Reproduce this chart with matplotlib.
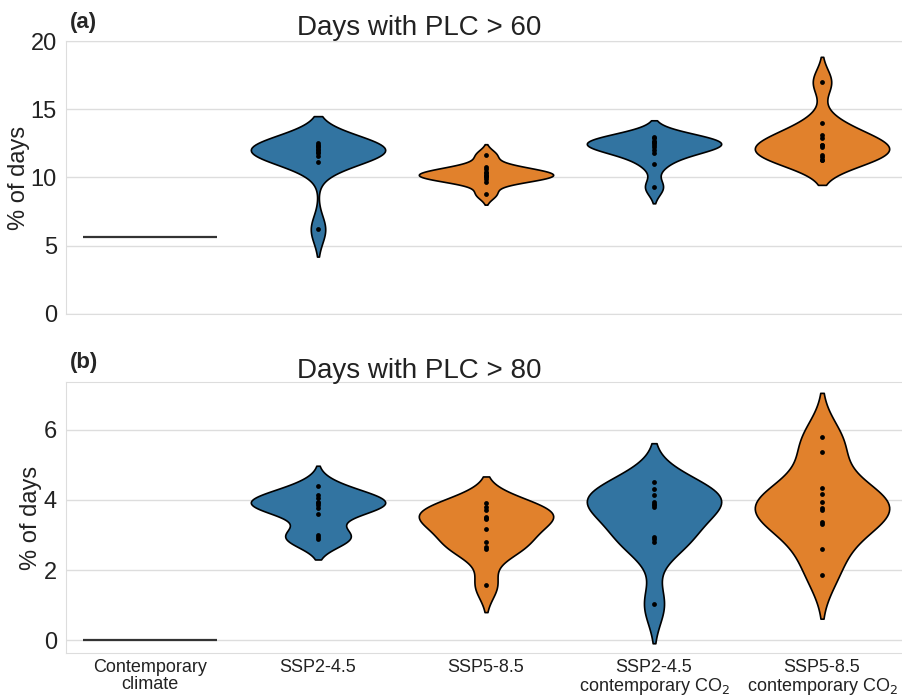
import numpy as np
import pandas as pd
import matplotlib
matplotlib.use("Agg")
import matplotlib.pyplot as plt
import seaborn as sns

# scenario labels (x axis)
scenarios = ["Contemporary climate", "SSP2-4.5", "SSP5-8.5",
             "SSP2-4.5 contemporary CO2", "SSP5-8.5 contemporary CO2"]
tick_labels = ["Contemporary\nclimate", "SSP2-4.5", "SSP5-8.5",
               "SSP2-4.5\ncontemporary CO$_2$", "SSP5-8.5\ncontemporary CO$_2$"]

# (a) % of days with PLC > 60, one value per climate model
contemporary_60 = 5.64
a_ssp245 = [12.5, 12.4, 12.3, 12.2, 12.1, 12.0, 11.9, 11.8, 11.6, 11.1, 6.2]
a_ssp585 = [11.65, 10.8, 10.6, 10.4, 10.3, 10.2, 10.1, 10.0, 9.9, 9.7, 8.8]
a_ssp245_co2 = [13.0, 12.9, 12.7, 12.6, 12.5, 12.4, 12.2, 12.0, 11.8, 11.0, 9.3]
a_ssp585_co2 = [17.0, 14.0, 13.1, 12.9, 12.4, 12.4, 12.2, 11.65, 11.5, 11.3, 11.3]

# (b) % of days with PLC > 80
contemporary_80 = 0.0
b_ssp245 = [4.4, 4.14, 4.05, 3.95, 3.9, 3.86, 3.76, 3.6, 3.0, 2.93, 2.88]
b_ssp585 = [3.9, 3.81, 3.71, 3.52, 3.48, 3.45, 3.17, 2.81, 2.67, 2.59, 1.57]
b_ssp245_co2 = [4.51, 4.31, 4.14, 3.95, 3.89, 3.85, 3.81, 2.95, 2.88, 2.81, 1.02]
b_ssp585_co2 = [5.81, 5.38, 4.33, 4.16, 3.93, 3.78, 3.71, 3.38, 3.31, 2.6, 1.86]

blue = "#1f77b4"
orange = "#ff7f0e"
colors = [blue, blue, orange, blue, orange]

sns.set_style("whitegrid")
plt.rcParams["font.family"] = ["Liberation Sans", "DejaVu Sans"]

fig = plt.figure(figsize=(9.02, 6.96), dpi=100)
ax_a = fig.add_axes([66 / 902, 1 - 314 / 696, 840 / 902, 273 / 696])
ax_b = fig.add_axes([66 / 902, 1 - 653 / 696, 840 / 902, 271 / 696])


def make_df(groups):
    rows = []
    for name, vals in zip(scenarios[1:], groups):
        for v in vals:
            rows.append((name, v))
    return pd.DataFrame(rows, columns=["scenario", "value"])


panels = [
    (ax_a, contemporary_60, [a_ssp245, a_ssp585, a_ssp245_co2, a_ssp585_co2], -0.0430),
    (ax_b, contemporary_80, [b_ssp245, b_ssp585, b_ssp245_co2, b_ssp585_co2], -0.0286),
]

for ax, base, groups, lab_x in panels:
    df = make_df(groups)
    sns.violinplot(data=df, x="scenario", y="value", order=scenarios,
                   hue="scenario", hue_order=scenarios, palette=colors,
                   density_norm="width", inner=None, cut=2, width=0.8,
                   bw_adjust=0.9, saturation=0.75, linecolor="black",
                   linewidth=1.2, legend=False, ax=ax)
    # contemporary climate is a single value -> flat line
    ax.hlines(base, -0.4, 0.4, color="#333333", linewidth=1.6, zorder=3)
    for i, vals in enumerate(groups, start=1):
        ax.scatter(np.full(len(vals), i), vals, s=12, color="black", zorder=4,
                   linewidths=0)
    ax.set_xlim(-0.5, 4.5)
    ax.set_xlabel("")
    ax.set_ylabel("% of days", fontsize=17, color="#222222")
    ax.yaxis.set_label_coords(lab_x, 0.5)
    ax.tick_params(axis="y", labelsize=17, pad=3, labelcolor="#222222")
    ax.grid(axis="x", visible=False)
    ax.grid(axis="y", color="#dddddd", linewidth=1)
    for sp in ax.spines.values():
        sp.set_color("#dddddd")

ax_a.set_ylim(0, 20)
ax_a.set_yticks([0, 5, 10, 15, 20])
ax_a.set_xticks(range(5))
ax_a.set_xticklabels([])

ax_b.set_ylim(-0.37, 7.37)
ax_b.set_yticks([0, 2, 4, 6])
ax_b.set_xticks(range(5))
ax_b.set_xticklabels(tick_labels, fontsize=13, linespacing=1.0, color="#222222")
ax_b.tick_params(axis="x", pad=0.5)

fig.text(419 / 902, 1 - 35 / 696, "Days with PLC > 60", fontsize=20,
         ha="center", va="baseline", color="#222222")
fig.text(419 / 902, 1 - 378 / 696, "Days with PLC > 80", fontsize=20,
         ha="center", va="baseline", color="#222222")
fig.text(70 / 902, 1 - 28 / 696, "(a)", fontsize=16, fontweight="bold",
         ha="left", va="baseline")
fig.text(70 / 902, 1 - 368 / 696, "(b)", fontsize=16, fontweight="bold",
         ha="left", va="baseline")

fig.savefig("out.png", dpi=100)
